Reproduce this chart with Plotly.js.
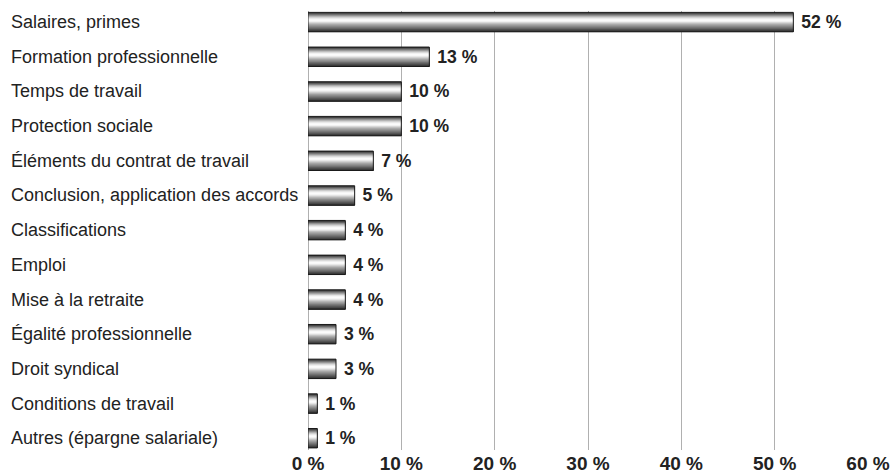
<!DOCTYPE html>
<html>
<head>
<meta charset="utf-8">
<script src="https://cdn.plot.ly/plotly-3.0.1.min.js"></script>
<style>html,body{margin:0;padding:0;background:#fff;}#chart{width:891px;height:473px;}</style>
</head>
<body>
<div id="chart"></div>
<script>
const categories = [
  "Salaires, primes",
  "Formation professionnelle",
  "Temps de travail",
  "Protection sociale",
  "Éléments du contrat de travail",
  "Conclusion, application des accords",
  "Classifications",
  "Emploi",
  "Mise à la retraite",
  "Égalité professionnelle",
  "Droit syndical",
  "Conditions de travail",
  "Autres (épargne salariale)"
];
const values = [52, 13, 10, 10, 7, 5, 4, 4, 4, 3, 3, 1, 1];
const tickVals = [0, 10, 20, 30, 40, 50, 60];
const tickText = ["0 %", "10 %", "20 %", "30 %", "40 %", "50 %", "60 %"];

const FONT = "'Liberation Sans', Arial, sans-serif";
const BAR_W = 0.56;
// gradient stripes (start fraction from top, colour); each painted to the bar bottom
const stripes = [
  [0.00, "#333333"], [0.05, "#555555"], [0.10, "#787878"], [0.15, "#9a9a9a"],
  [0.20, "#bdbdbd"], [0.25, "#dadada"], [0.30, "#eeeeee"], [0.35, "#fbfbfb"],
  [0.45, "#eeeeee"], [0.50, "#d8d8d8"], [0.55, "#c0c0c0"], [0.60, "#aaaaaa"],
  [0.65, "#999999"], [0.70, "#888888"], [0.75, "#777777"], [0.80, "#666666"],
  [0.85, "#555555"], [0.90, "#444444"], [0.95, "#333333"]
];

const traces = stripes.map(([f, c]) => ({
  type: "bar", orientation: "h",
  x: values, y: categories,
  offset: -BAR_W / 2 + f * BAR_W,
  width: (1 - f) * BAR_W,
  marker: { color: c, line: { width: 0 } },
  hoverinfo: "skip", showlegend: false
}));
traces.push({
  type: "bar", orientation: "h",
  x: values, y: categories,
  width: BAR_W,
  marker: { color: "rgba(0,0,0,0)", line: { color: "#1a1a1a", width: 1 } },
  text: values.map(v => "\u00a0" + v + " %"),
  textposition: "outside",
  cliponaxis: false,
  textfont: { family: FONT, size: 19, color: "#222", weight: "bold" },
  showlegend: false
});

const annotations = categories.map(c => ({
  xref: "paper", yref: "y", x: 0, y: c,
  xshift: -299, xanchor: "left", yanchor: "middle",
  text: c, showarrow: false,
  font: { family: FONT, size: 18, color: "#222" }
}));

const layout = {
  width: 891, height: 473,
  margin: { l: 308, r: 23, t: 11, b: 23 },
  paper_bgcolor: "#fff", plot_bgcolor: "#fff",
  barmode: "overlay",
  showlegend: false,
  font: { family: FONT },
  xaxis: {
    range: [0, 60], tickvals: tickVals, ticktext: tickText,
    showgrid: true, gridcolor: "#b0b0b0", gridwidth: 1,
    zeroline: true, zerolinecolor: "#b0b0b0", zerolinewidth: 1,
    ticks: "", showline: false,
    tickfont: { family: FONT, size: 19, color: "#222", weight: "bold" }
  },
  yaxis: {
    type: "category", range: [12.34, -0.32],
    showticklabels: false, showgrid: false, zeroline: false, ticks: ""
  },
  annotations: annotations
};

Plotly.newPlot("chart", traces, layout, { displayModeBar: false, staticPlot: true });
</script>
</body>
</html>
